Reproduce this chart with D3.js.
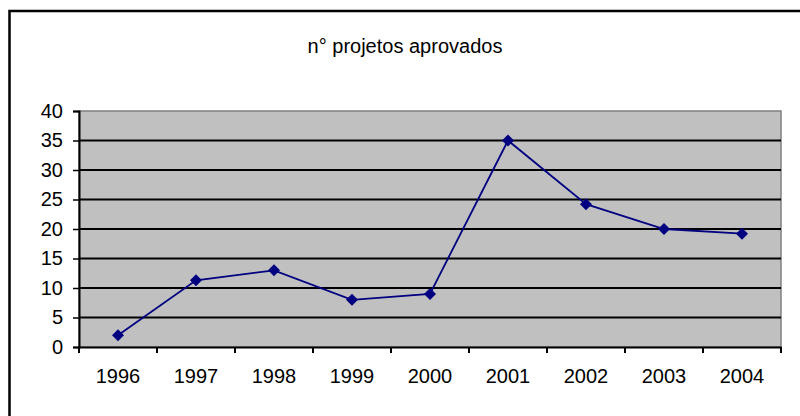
<!DOCTYPE html>
<html>
<head>
<meta charset="utf-8">
<script src="https://cdn.jsdelivr.net/npm/d3@7"></script>
<style>
  body { margin: 0; background: #fff; }
  text { font-family: "Liberation Sans", Arial, sans-serif; fill: #000; }
</style>
</head>
<body>
<div id="chart"></div>
<script>
// data
let years = ["1996", "1997", "1998", "1999", "2000", "2001", "2002", "2003", "2004"];
let projetos = [2, 11.3, 13, 8, 9, 35, 24.2, 20, 19.2];
let yTicks = [0, 5, 10, 15, 20, 25, 30, 35, 40];
let title = "n\u00b0 projetos aprovados";

let W = 800, H = 416;
let margin = { top: 111, right: 19, bottom: 69, left: 79 },
  width = W - margin.left - margin.right,
  height = H - margin.top - margin.bottom;

let svg = d3.select("#chart").append("svg")
  .attr("width", W)
  .attr("height", H);

// outer chart border
svg.append("rect")
  .attr("x", 9.5).attr("y", 11)
  .attr("width", 820).attr("height", 440)
  .attr("fill", "none")
  .attr("stroke", "#000")
  .attr("stroke-width", 2.5);

svg.append("text")
  .attr("x", 405).attr("y", 53)
  .attr("text-anchor", "middle")
  .style("font-size", "20px")
  .text(title);

let g = svg.append("g")
  .attr("transform", "translate(" + margin.left + "," + margin.top + ")");

let x = d3.scaleBand().domain(years).range([0, width]);
let y = d3.scaleLinear().domain([0, 40]).range([height, 0]);

// plot area
g.append("rect")
  .attr("width", width).attr("height", height)
  .attr("fill", "#c0c0c0")
  .attr("stroke", "#808080")
  .attr("stroke-width", 1.5);

// gridlines
g.selectAll(".grid")
  .data(yTicks.filter((d) => d > 0 && d < 40))
  .enter()
  .append("line")
  .attr("x1", 0).attr("x2", width)
  .attr("y1", (d) => y(d)).attr("y2", (d) => y(d))
  .attr("stroke", "#000")
  .attr("stroke-width", 2);

// y axis
let yAxis = g.append("g")
  .call(d3.axisLeft(y).tickValues(yTicks).tickSize(6).tickPadding(10));
yAxis.select(".domain").attr("stroke-width", 2);
yAxis.selectAll(".tick line").attr("stroke-width", 1.5);
yAxis.selectAll("text").style("font-size", "20px").attr("font-family", null);

// x axis, ticks between categories
let xAxis = g.append("g")
  .attr("transform", "translate(0," + height + ")")
  .call(d3.axisBottom(x).tickSize(0).tickPadding(22));
xAxis.select(".domain").attr("stroke-width", 2);
xAxis.selectAll("text").style("font-size", "20px").attr("font-family", null);
xAxis.selectAll(".sep")
  .data(d3.range(years.length + 1))
  .enter()
  .append("line")
  .attr("x1", (i) => i * x.step()).attr("x2", (i) => i * x.step())
  .attr("y1", 0).attr("y2", 6)
  .attr("stroke", "#000")
  .attr("stroke-width", 2);

// series line
let line = d3.line()
  .x((d, i) => x(years[i]) + x.bandwidth() / 2)
  .y((d) => y(d));

g.append("path")
  .datum(projetos)
  .attr("d", line)
  .attr("fill", "none")
  .attr("stroke", "#000080")
  .attr("stroke-width", 1.8);

// diamond markers (squares turned 45 degrees)
g.selectAll(".dot")
  .data(projetos)
  .enter()
  .append("path")
  .attr("d", d3.symbol().type(d3.symbolSquare).size(72))
  .attr("transform", (d, i) => "translate(" + (x(years[i]) + x.bandwidth() / 2) + "," + y(d) + ") rotate(45)")
  .attr("fill", "#000080");
</script>
</body>
</html>
